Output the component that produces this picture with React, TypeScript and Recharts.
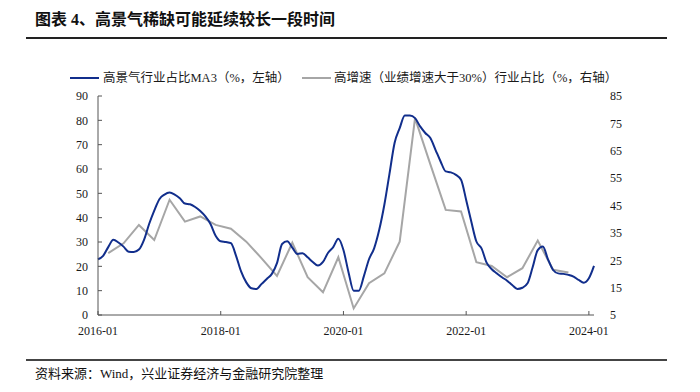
import { LineChart, Line, XAxis, YAxis } from "recharts";

// monthly categories 2016-01 .. 2024-02
const months: string[] = Array.from({ length: 98 }, (_, i) => {
  const y = 2016 + Math.floor(i / 12);
  const m = (i % 12) + 1;
  return `${y}-${m < 10 ? "0" + m : m}`;
});

// 高景气行业占比MA3 (left axis, monthly)
const highBoomMA3 = [
  22.9, 24.3, 27.9, 30.9, 29.8, 28.1, 26.0, 25.9, 26.9, 30.9,
  37.4, 42.9, 47.6, 49.5, 50.3, 49.5, 48.0, 45.8, 45.5, 44.4,
  42.7, 40.5, 37.4, 32.6, 30.3, 30.0, 29.5, 24.3, 17.8, 13.4,
  11.0, 10.7, 12.8, 14.8, 16.9, 21.3, 29.2, 30.3, 27.7, 25.1,
  25.4, 23.7, 21.8, 20.3, 21.8, 25.6, 27.9, 31.3, 26.7, 17.5,
  10.0, 10.0, 16.0, 22.9, 27.4, 35.0, 45.3, 58.0, 70.7, 76.8,
  82.0, 82.0, 80.9, 77.5, 74.8, 72.7, 67.9, 63.1, 59.0, 58.6,
  57.6, 55.6, 47.3, 38.4, 30.2, 27.4, 21.5, 18.8, 17.1, 15.5,
  14.1, 12.3, 10.7, 11.2, 13.0, 19.6, 26.7, 28.1, 22.9, 18.5,
  17.1, 16.9, 16.5, 15.8, 14.4, 13.3, 15.1, 20.2,
];

// 高增速行业占比 (right axis, quarterly)
const quarterMonths = [
  "2016-03", "2016-06", "2016-09", "2016-12",
  "2017-03", "2017-06", "2017-09", "2017-12",
  "2018-03", "2018-06", "2018-09", "2018-12",
  "2019-03", "2019-06", "2019-09", "2019-12",
  "2020-03", "2020-06", "2020-09", "2020-12",
  "2021-03", "2021-06", "2021-09", "2021-12",
  "2022-03", "2022-06", "2022-09", "2022-12",
  "2023-03", "2023-06", "2023-09",
];
const highGrowth = [
  27.6, 31.2, 37.9, 32.4,
  47.1, 39.1, 41.0, 37.9,
  36.5, 31.8, 25.7, 19.3,
  31.4, 18.8, 13.3, 26.1,
  7.4, 16.6, 20.2, 31.8,
  76.9, 60.0, 43.4, 42.8,
  24.3, 22.9, 18.8, 22.1,
  32.2, 21.5, 20.5,
];

const xTicks = ["2016-01", "2018-01", "2020-01", "2022-01", "2024-01"];
const leftTicks = [0, 10, 20, 30, 40, 50, 60, 70, 80, 90];
const rightTicks = [5, 15, 25, 35, 45, 55, 65, 75, 85];

const BLUE = "#112e8c";
const GRAY = "#a6a6a6";
const SERIF = "'Liberation Serif', 'Noto Sans CJK SC', serif";
const CJK = "'Liberation Serif', 'Noto Sans CJK SC', sans-serif";

const data = months.map((month, i) => {
  const q = quarterMonths.indexOf(month);
  return {
    month,
    boom: highBoomMA3[i],
    growth: q >= 0 ? highGrowth[q] : null,
  };
});

const tickStyle = { fill: "#1a1a1a", fontSize: 12, fontFamily: SERIF };

export default function App() {
  return (
    <div style={styles.page}>
      <div style={styles.title}>图表 4、高景气稀缺可能延续较长一段时间</div>
      <div style={styles.topRule} />

      <div style={styles.legend}>
        <span style={{ ...styles.swatch, background: BLUE, left: 70 }} />
        <span style={{ ...styles.legendText, left: 103 }}>高景气行业占比MA3（%，左轴）</span>
        <span style={{ ...styles.swatch, background: GRAY, left: 302 }} />
        <span style={{ ...styles.legendText, left: 334 }}>
          高增速（业绩增速大于30%）行业占比（%，右轴）
        </span>
      </div>

      <div style={{ position: "absolute", left: 0, top: 0 }}>
        <LineChart
          width={700}
          height={392}
          data={data}
          margin={{ top: 96, right: 66, bottom: 47, left: 0 }}
        >
          <XAxis
            dataKey="month"
            ticks={xTicks}
            interval={0}
            tick={tickStyle}
            tickSize={-4}
            tickMargin={15}
            height={30}
            axisLine={{ stroke: "#555" }}
            tickLine={{ stroke: "#555" }}
          />
          <YAxis
            yAxisId="left"
            domain={[0, 90]}
            ticks={leftTicks}
            interval={0}
            width={98}
            tick={tickStyle}
            tickSize={-4}
            tickMargin={14}
            axisLine={{ stroke: "#555" }}
            tickLine={{ stroke: "#555" }}
          />
          <YAxis
            yAxisId="right"
            orientation="right"
            domain={[5, 85]}
            ticks={rightTicks}
            interval={0}
            width={40}
            tick={{ ...tickStyle, textAnchor: "start" }}
            axisLine={false}
            tickLine={false}
            tickMargin={10}
          />
          <Line
            yAxisId="right"
            dataKey="growth"
            type="linear"
            stroke={GRAY}
            strokeWidth={2}
            dot={false}
            connectNulls
            isAnimationActive={false}
          />
          <Line
            yAxisId="left"
            dataKey="boom"
            type="monotone"
            stroke={BLUE}
            strokeWidth={2}
            dot={false}
            isAnimationActive={false}
          />
        </LineChart>
      </div>

      <div style={styles.bottomRule} />
      <div style={styles.source}>资料来源：Wind，兴业证券经济与金融研究院整理</div>
    </div>
  );
}

const styles: Record<string, React.CSSProperties> = {
  page: {
    position: "absolute",
    left: 0,
    top: 0,
    width: 700,
    height: 392,
    background: "#fff",
    overflow: "hidden",
  },
  title: {
    position: "absolute",
    left: 35,
    top: 10,
    fontSize: 16,
    fontWeight: 700,
    fontFamily: CJK,
    color: "#111",
    whiteSpace: "nowrap",
    lineHeight: "20px",
  },
  topRule: {
    position: "absolute",
    left: 26,
    top: 37,
    width: 641,
    height: 2,
    background: "#222",
  },
  legend: {
    position: "absolute",
    left: 0,
    top: 70,
    width: 700,
    height: 16,
    zIndex: 2,
  },
  swatch: {
    position: "absolute",
    top: 7,
    width: 29,
    height: 2,
  },
  legendText: {
    position: "absolute",
    top: 0,
    fontSize: 12.5,
    fontFamily: CJK,
    color: "#1a1a1a",
    whiteSpace: "nowrap",
    lineHeight: "16px",
  },
  bottomRule: {
    position: "absolute",
    left: 26,
    top: 359,
    width: 641,
    height: 2,
    background: "#444",
  },
  source: {
    position: "absolute",
    left: 35,
    top: 365,
    fontSize: 13,
    fontFamily: CJK,
    color: "#111",
    whiteSpace: "nowrap",
    lineHeight: "18px",
  },
};
